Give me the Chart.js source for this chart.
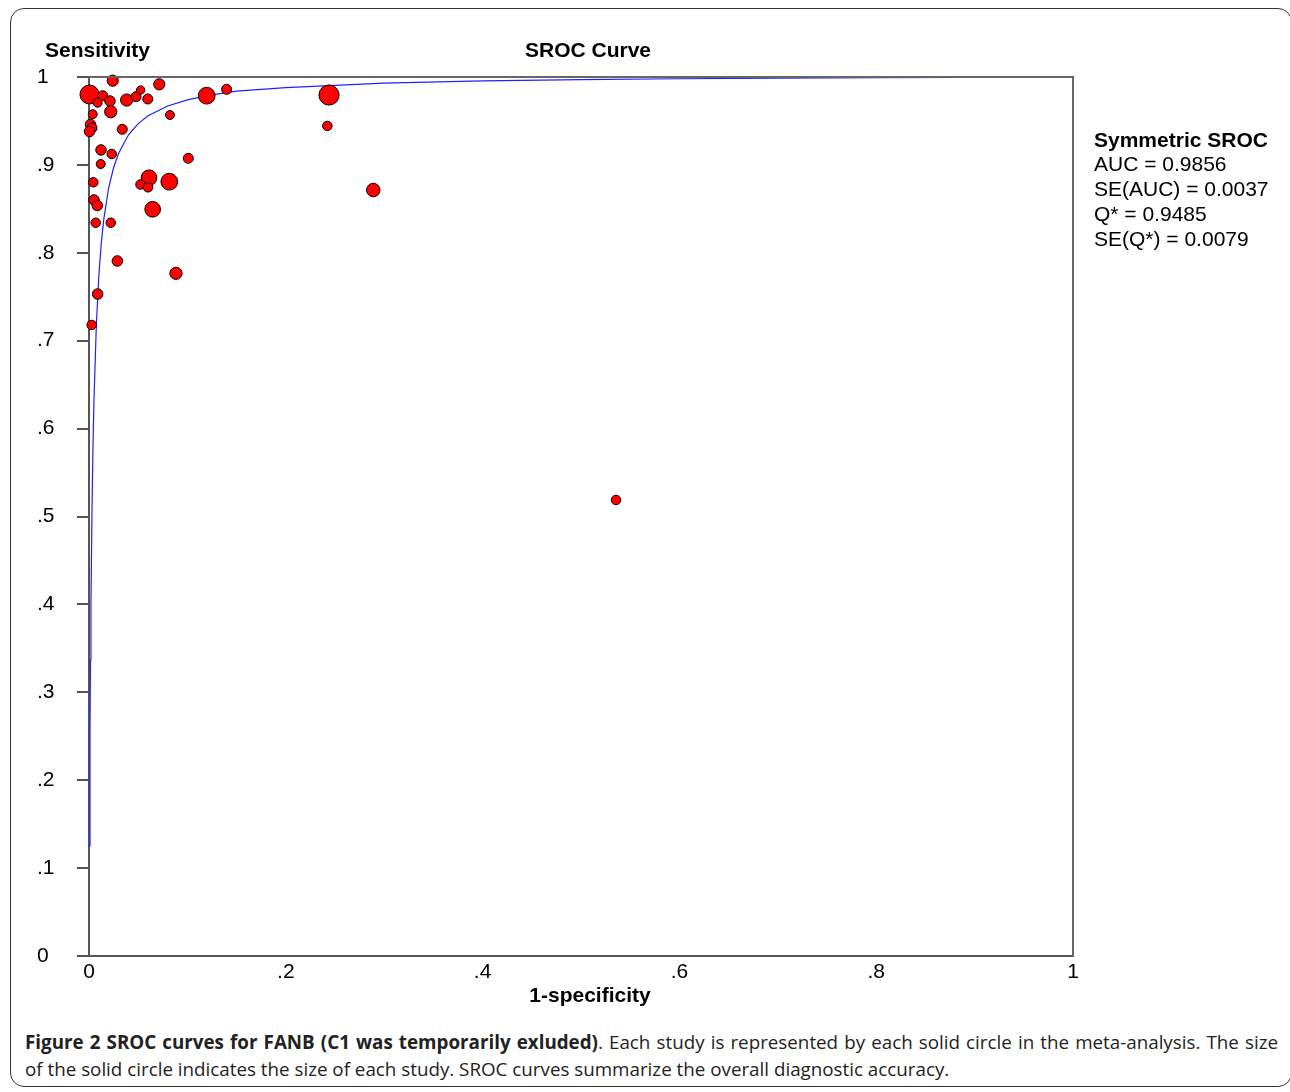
<!DOCTYPE html>
<html>
<head>
<meta charset="utf-8">
<script src="https://cdn.jsdelivr.net/npm/chart.js@4.4.1/dist/chart.umd.min.js"></script>
<style>
  html, body { margin: 0; padding: 0; background: #fff; }
  body { width: 1290px; height: 1092px; position: relative; overflow: hidden; }
  #frame {
    position: absolute; left: 10px; top: 8px; width: 1282px; height: 1079px;
    border: 1.5px solid #333; border-radius: 14px; box-sizing: border-box;
  }
  #sroc { position: absolute; left: 0; top: 0; }
  #caption {
    position: absolute; left: 25px; top: 1029px; width: 1253px;
    font-family: 'Open Sans', sans-serif; font-size: 18.8px; line-height: 27px;
    color: #222;
  }
  #caption .l1 { text-align: justify; text-align-last: justify; white-space: nowrap; }
</style>
</head>
<body>
<div id="frame"></div>
<canvas id="sroc" width="1290" height="1020"></canvas>
<div id="caption">
  <div class="l1"><b>Figure 2 SROC curves for FANB (C1 was temporarily exluded)</b>. Each study is represented by each solid circle in the meta-analysis. The size</div>
  <div>of the solid circle indicates the size of each study. SROC curves summarize the overall diagnostic accuracy.</div>
</div>
<script>
// study points (1-specificity, sensitivity) and relative study weight
const studyFpr = [0.0241, 0.0005, 0.0139, 0.0088, 0.0213, 0.0221, 0.0383, 0.0478, 0.0525, 0.0597,
  0.0714, 0.1196, 0.1399, 0.0038, 0.0015, 0.0030, 0.0005, 0.0338, 0.0823, 0.0122,
  0.0231, 0.0119, 0.1009, 0.0044, 0.0610, 0.0523, 0.0600, 0.0816, 0.0051, 0.0084,
  0.0647, 0.0068, 0.0221, 0.0288, 0.0884, 0.0088, 0.0027, 0.2439, 0.2422, 0.2889, 0.5356]
const studySens = [0.9958, 0.9801, 0.9787, 0.9707, 0.9727, 0.9605, 0.9738, 0.9776, 0.9852, 0.9750,
  0.9917, 0.9787, 0.9860, 0.9576, 0.9460, 0.9420, 0.9380, 0.9405, 0.9568, 0.9170,
  0.9124, 0.9010, 0.9075, 0.8802, 0.8854, 0.8777, 0.8745, 0.8809, 0.8601, 0.8538,
  0.8495, 0.8342, 0.8342, 0.7907, 0.7767, 0.7531, 0.7179, 0.9795, 0.9443, 0.8714, 0.5188]
const studyWeight = [25, 72, 20, 16, 22, 30, 30, 20, 14, 20,
  25, 56, 20, 16, 22, 20, 22, 20, 16, 22,
  18, 16, 20, 18, 49, 18, 18, 56, 22, 22,
  49, 18, 18, 22, 30, 22, 18, 81, 18, 36, 18]

// symmetric SROC curve
const curveFpr = [0.0004, 0.001, 0.0015, 0.002, 0.003, 0.004, 0.005, 0.0075, 0.01, 0.0125, 0.015, 0.02,
  0.025, 0.03, 0.04, 0.05, 0.06, 0.08, 0.1, 0.12, 0.15, 0.2, 0.3, 0.4, 0.5, 0.6, 0.7, 0.8, 0.89]
const curveSens = [0.125, 0.253, 0.337, 0.404, 0.505, 0.577, 0.630, 0.719, 0.774, 0.811, 0.838, 0.874,
  0.897, 0.913, 0.934, 0.947, 0.956, 0.967, 0.974, 0.9788, 0.984, 0.988, 0.993, 0.9956, 0.997, 0.998, 0.9987, 0.9993, 0.9996]

const xTickLabels = ['0', '.2', '.4', '.6', '.8', '1']
const yTickLabels = ['0', '.1', '.2', '.3', '.4', '.5', '.6', '.7', '.8', '.9', '1']

const legendLines = ['Symmetric SROC', 'AUC = 0.9856', 'SE(AUC) = 0.0037', 'Q* = 0.9485', 'SE(Q*) = 0.0079']

const FONT = "'Liberation Sans', Arial, sans-serif"

// extra texts + plot frame
const decorations = {
  id: 'decorations',
  afterDatasetsDraw(chart) {
    const { ctx, chartArea } = chart
    ctx.save()
    ctx.strokeStyle = '#666'
    ctx.lineWidth = 2
    ctx.beginPath()
    ctx.moveTo(chartArea.left, chartArea.top)
    ctx.lineTo(chartArea.right, chartArea.top)
    ctx.lineTo(chartArea.right, chartArea.bottom)
    ctx.stroke()
    ctx.restore()
  },
  afterDraw(chart) {
    const ctx = chart.ctx
    ctx.save()
    ctx.fillStyle = '#000'
    ctx.textBaseline = 'middle'
    ctx.font = `bold 21px ${FONT}`
    ctx.textAlign = 'left'
    ctx.fillText('Sensitivity', 45, 51)
    ctx.textAlign = 'center'
    ctx.fillText('SROC Curve', 588, 51)
    ctx.fillText('1-specificity', 590, 996)
    ctx.textAlign = 'left'
    legendLines.forEach((t, i) => {
      ctx.font = (i === 0 ? 'bold ' : '') + `21px ${FONT}`
      ctx.fillText(t, 1094, 141 + i * 24.7)
    })
    ctx.restore()
  }
}

const ctx = document.getElementById('sroc').getContext('2d')

new Chart(ctx, {
  type: 'scatter',
  data: {
    datasets: [
      {
        label: 'studies',
        data: studyFpr.map((x, i) => ({ x: x, y: studySens[i] })),
        backgroundColor: '#ff0000',
        borderColor: '#000',
        borderWidth: 1,
        pointRadius: studyWeight.map(w => Math.sqrt(w) * 1.12),
        clip: false,
        order: 1
      },
      {
        label: 'SROC',
        data: curveFpr.map((x, i) => ({ x: x, y: curveSens[i] })),
        showLine: true,
        borderColor: '#2020ff',
        borderWidth: 1.2,
        pointRadius: 0,
        tension: 0,
        order: 2
      }
    ]
  },
  options: {
    responsive: false,
    animation: false,
    devicePixelRatio: 1,
    layout: { padding: { top: 77, right: 217, left: 37, bottom: 0 } },
    plugins: {
      legend: { display: false },
      tooltip: { enabled: false }
    },
    scales: {
      x: {
        type: 'linear',
        min: 0,
        max: 1,
        afterFit: (s) => { s.height = 64 },
        grid: { display: false, drawTicks: false },
        border: { color: '#555', width: 2 },
        ticks: {
          stepSize: 0.2,
          padding: 4,
          color: '#000',
          font: { family: FONT, size: 21 },
          maxRotation: 0,
          callback: (v, i) => xTickLabels[i]
        }
      },
      y: {
        type: 'linear',
        min: 0,
        max: 1,
        afterFit: (s) => { s.width = 52 },
        grid: { drawOnChartArea: false, drawTicks: true, tickLength: 12, color: '#555', lineWidth: 2 },
        border: { color: '#555', width: 2 },
        ticks: {
          stepSize: 0.1,
          crossAlign: 'far',
          color: '#000',
          font: { family: FONT, size: 21 },
          callback: (v, i) => yTickLabels[i]
        }
      }
    }
  },
  plugins: [decorations]
})
</script>
</body>
</html>
